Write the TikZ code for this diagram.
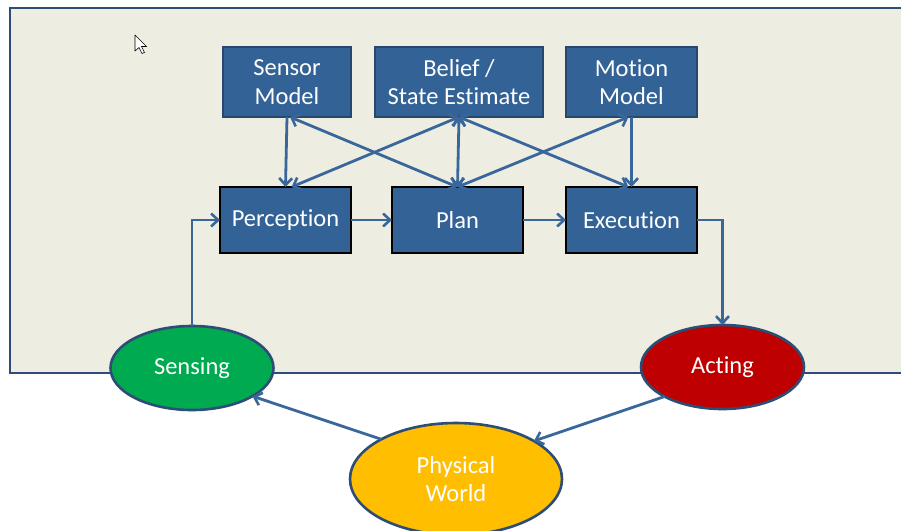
\documentclass[tikz,border=0pt]{standalone}
\usepackage{fontspec}
\setmainfont{Carlito}[Ligatures={NoCommon}]
\usetikzlibrary{arrows.meta,shapes.geometric,calc}
\definecolor{bgbeige}{RGB}{238,237,225}
\definecolor{frameblue}{RGB}{44,78,118}
\definecolor{boxblue}{RGB}{50,98,150}
\definecolor{boxedge}{RGB}{38,72,110}
\definecolor{arrowblue}{RGB}{58,103,155}
\definecolor{sensgreen}{RGB}{0,170,80}
\definecolor{actred}{RGB}{190,0,0}
\definecolor{worldgold}{RGB}{255,190,0}
\tikzset{
  topbox/.style={draw=boxedge, line width=2pt, fill=boxblue, text=white, inner sep=0pt, outer sep=0pt,
    minimum height=70pt, align=center, font=\fontsize{24.5}{28.5}\selectfont},
  midbox/.style={draw=black, line width=2.6pt, fill=boxblue, text=white, inner sep=0pt, outer sep=0pt,
    minimum width=131pt, minimum height=66pt, align=center, font=\fontsize{24.5}{28.5}\selectfont},
  blob/.style={ellipse, draw=frameblue, line width=2.6pt, text=white, inner sep=0pt, outer sep=0pt,
    align=center, font=\fontsize{24.5}{28.5}\selectfont},
  conn/.style={draw=arrowblue, line width=2.8pt, -{Straight Barb[length=7pt,width=13pt,line width=2.6pt]}},
  bconn/.style={draw=arrowblue, line width=2.8pt, {Straight Barb[length=7pt,width=13pt,line width=2.6pt]}-{Straight Barb[length=7pt,width=13pt,line width=2.6pt]}},
}
\begin{document}
\begin{tikzpicture}[x=1pt,y=-1pt]
\useasboundingbox (0,0) rectangle (901,530);
\fill[white] (0,0) rectangle (901,530);
\draw[frameblue, line width=2.6pt, fill=bgbeige] (10,8) rectangle (912,373);
% mouse cursor
\draw[black, line width=0.6pt, fill=white, line join=round]
  (135,35) -- (135,51) -- (139,47.5) -- (142,53.5) -- (144.5,52.5) -- (141.5,46.5) -- (146.5,46.5) -- cycle;
% boxes
\node[topbox, minimum width=128pt] (sm) at (287,82) {Sensor\\Model};
\node[topbox, minimum width=168pt] (bel) at (459,82) {Belief /\\State Estimate};
\node[topbox, minimum width=131pt] (mm) at (631.5,82) {Motion\\Model};
\node[midbox] (perc) at (285.5,220) {Perception};
\node[midbox] (plan) at (457.5,220) {Plan};
\node[midbox] (exec) at (631.5,220) {Execution};
% ellipses
\node[blob, fill=sensgreen, minimum width=163pt, minimum height=84pt] (sens) at (192,368) {Sensing};
\node[blob, fill=actred, minimum width=163pt, minimum height=84pt] (act) at (722.5,367) {Acting};
\node[blob, fill=worldgold, minimum width=212pt, minimum height=112pt] (pw) at (456,479) {Physical\\World};
% connectors between boxes
\draw[conn] (sm.south) -- (perc.north);
\draw[bconn] ([xshift=3pt]sm.south) -- (plan.north);
\draw[bconn] (bel.south) -- ([xshift=6pt]perc.north);
\draw[bconn] (bel.south) -- (plan.north);
\draw[bconn] (bel.south) -- ([xshift=-3pt]exec.north);
\draw[bconn] ([xshift=-3pt]mm.south) -- (plan.north);
\draw[conn] (mm.south) -- (exec.north);
\draw[conn] (perc.east) -- (plan.west);
\draw[conn] (plan.east) -- (exec.west);
\draw[conn] (sens.north) |- (perc.west);
\draw[conn] (exec.east) -| (act.north);
\draw[conn] (pw.152) -- (sens.335);
\draw[conn] (act.207) -- (pw.26);
\end{tikzpicture}
\end{document}
